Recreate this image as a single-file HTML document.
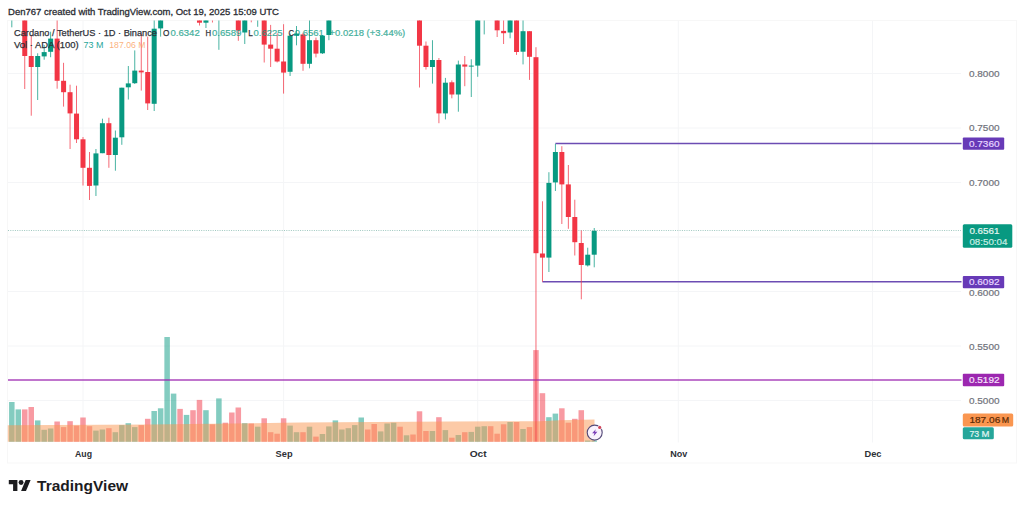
<!DOCTYPE html>
<html><head><meta charset="utf-8"><title>ADAUSDT</title>
<style>
html,body{margin:0;padding:0;background:#fff}
body{width:1024px;height:509px;overflow:hidden;font-family:"Liberation Sans",sans-serif}
svg{display:block}
text{font-family:"Liberation Sans",sans-serif}
</style></head><body>
<svg width="1024" height="509" viewBox="0 0 1024 509">
<rect width="1024" height="509" fill="#fff"/>
<defs><clipPath id="pane"><rect x="7.5" y="20.6" width="954" height="421.2"/></clipPath></defs>

<rect x="7.5" y="20.6" width="1009" height="442.4" fill="none" stroke="#f7f7f7" stroke-width="1"/>
<line x1="8" x2="961" y1="73.5" y2="73.5" stroke="#f4f5f7" stroke-width="1"/>
<line x1="8" x2="961" y1="128" y2="128" stroke="#f4f5f7" stroke-width="1"/>
<line x1="8" x2="961" y1="182.5" y2="182.5" stroke="#f4f5f7" stroke-width="1"/>
<line x1="8" x2="961" y1="237" y2="237" stroke="#f4f5f7" stroke-width="1"/>
<line x1="8" x2="961" y1="291.5" y2="291.5" stroke="#f4f5f7" stroke-width="1"/>
<line x1="8" x2="961" y1="346" y2="346" stroke="#f4f5f7" stroke-width="1"/>
<line x1="8" x2="961" y1="400.5" y2="400.5" stroke="#f4f5f7" stroke-width="1"/>
<line x1="83.0" x2="83.0" y1="21" y2="442.5" stroke="#f4f5f7" stroke-width="1"/>
<line x1="283.6" x2="283.6" y1="21" y2="442.5" stroke="#f4f5f7" stroke-width="1"/>
<line x1="477.7" x2="477.7" y1="21" y2="442.5" stroke="#f4f5f7" stroke-width="1"/>
<line x1="678.3" x2="678.3" y1="21" y2="442.5" stroke="#f4f5f7" stroke-width="1"/>
<line x1="872.5" x2="872.5" y1="21" y2="442.5" stroke="#f4f5f7" stroke-width="1"/>
<g clip-path="url(#pane)">
<rect x="9.07" y="402" width="5.5" height="40.0" fill="#089981" fill-opacity="0.5"/>
<rect x="15.54" y="409.4" width="5.5" height="32.6" fill="#089981" fill-opacity="0.5"/>
<rect x="22.01" y="409.4" width="5.5" height="32.6" fill="#f23645" fill-opacity="0.5"/>
<rect x="28.48" y="407" width="5.5" height="35.0" fill="#f23645" fill-opacity="0.5"/>
<rect x="34.95" y="420.4" width="5.5" height="21.6" fill="#089981" fill-opacity="0.5"/>
<rect x="41.42" y="429.8" width="5.5" height="12.2" fill="#089981" fill-opacity="0.5"/>
<rect x="47.89" y="428.5" width="5.5" height="13.5" fill="#089981" fill-opacity="0.5"/>
<rect x="54.37" y="421.5" width="5.5" height="20.5" fill="#f23645" fill-opacity="0.5"/>
<rect x="60.84" y="427.1" width="5.5" height="14.9" fill="#f23645" fill-opacity="0.5"/>
<rect x="67.31" y="421.2" width="5.5" height="20.8" fill="#f23645" fill-opacity="0.5"/>
<rect x="73.78" y="425.6" width="5.5" height="16.4" fill="#f23645" fill-opacity="0.5"/>
<rect x="80.25" y="417.5" width="5.5" height="24.5" fill="#f23645" fill-opacity="0.5"/>
<rect x="86.72" y="426.2" width="5.5" height="15.8" fill="#f23645" fill-opacity="0.5"/>
<rect x="93.19" y="430.6" width="5.5" height="11.4" fill="#089981" fill-opacity="0.5"/>
<rect x="99.66" y="429.5" width="5.5" height="12.5" fill="#089981" fill-opacity="0.5"/>
<rect x="106.13" y="428.2" width="5.5" height="13.8" fill="#f23645" fill-opacity="0.5"/>
<rect x="112.61" y="432.2" width="5.5" height="9.8" fill="#089981" fill-opacity="0.5"/>
<rect x="119.08" y="425.1" width="5.5" height="16.9" fill="#089981" fill-opacity="0.5"/>
<rect x="125.55" y="423.2" width="5.5" height="18.8" fill="#089981" fill-opacity="0.5"/>
<rect x="132.02" y="427.1" width="5.5" height="14.9" fill="#089981" fill-opacity="0.5"/>
<rect x="138.49" y="425.1" width="5.5" height="16.9" fill="#f23645" fill-opacity="0.5"/>
<rect x="144.96" y="418.8" width="5.5" height="23.2" fill="#f23645" fill-opacity="0.5"/>
<rect x="151.43" y="411" width="5.5" height="31.0" fill="#089981" fill-opacity="0.5"/>
<rect x="157.90" y="408.3" width="5.5" height="33.7" fill="#089981" fill-opacity="0.5"/>
<rect x="164.37" y="337" width="5.5" height="105.0" fill="#089981" fill-opacity="0.5"/>
<rect x="170.84" y="393.6" width="5.5" height="48.4" fill="#089981" fill-opacity="0.5"/>
<rect x="177.31" y="408.9" width="5.5" height="33.1" fill="#f23645" fill-opacity="0.5"/>
<rect x="183.79" y="414.9" width="5.5" height="27.1" fill="#089981" fill-opacity="0.5"/>
<rect x="190.26" y="410.2" width="5.5" height="31.8" fill="#f23645" fill-opacity="0.5"/>
<rect x="196.73" y="399.9" width="5.5" height="42.1" fill="#f23645" fill-opacity="0.5"/>
<rect x="203.20" y="410.2" width="5.5" height="31.8" fill="#089981" fill-opacity="0.5"/>
<rect x="209.67" y="424.3" width="5.5" height="17.7" fill="#f23645" fill-opacity="0.5"/>
<rect x="216.14" y="398.4" width="5.5" height="43.6" fill="#089981" fill-opacity="0.5"/>
<rect x="222.61" y="422.7" width="5.5" height="19.3" fill="#f23645" fill-opacity="0.5"/>
<rect x="229.08" y="412.5" width="5.5" height="29.5" fill="#f23645" fill-opacity="0.5"/>
<rect x="235.55" y="407.5" width="5.5" height="34.5" fill="#f23645" fill-opacity="0.5"/>
<rect x="242.03" y="423.2" width="5.5" height="18.8" fill="#089981" fill-opacity="0.5"/>
<rect x="248.50" y="423.5" width="5.5" height="18.5" fill="#f23645" fill-opacity="0.5"/>
<rect x="254.97" y="426.7" width="5.5" height="15.3" fill="#089981" fill-opacity="0.5"/>
<rect x="261.44" y="418.3" width="5.5" height="23.7" fill="#f23645" fill-opacity="0.5"/>
<rect x="267.91" y="432.2" width="5.5" height="9.8" fill="#f23645" fill-opacity="0.5"/>
<rect x="274.38" y="433.7" width="5.5" height="8.3" fill="#f23645" fill-opacity="0.5"/>
<rect x="280.85" y="418.3" width="5.5" height="23.7" fill="#f23645" fill-opacity="0.5"/>
<rect x="287.32" y="425.6" width="5.5" height="16.4" fill="#089981" fill-opacity="0.5"/>
<rect x="293.79" y="432.2" width="5.5" height="9.8" fill="#089981" fill-opacity="0.5"/>
<rect x="300.26" y="432.2" width="5.5" height="9.8" fill="#f23645" fill-opacity="0.5"/>
<rect x="306.74" y="426.7" width="5.5" height="15.3" fill="#089981" fill-opacity="0.5"/>
<rect x="313.21" y="436.6" width="5.5" height="5.4" fill="#f23645" fill-opacity="0.5"/>
<rect x="319.68" y="434" width="5.5" height="8.0" fill="#089981" fill-opacity="0.5"/>
<rect x="326.15" y="426.4" width="5.5" height="15.6" fill="#089981" fill-opacity="0.5"/>
<rect x="332.62" y="420.4" width="5.5" height="21.6" fill="#089981" fill-opacity="0.5"/>
<rect x="339.09" y="429.5" width="5.5" height="12.5" fill="#089981" fill-opacity="0.5"/>
<rect x="345.56" y="428.2" width="5.5" height="13.8" fill="#089981" fill-opacity="0.5"/>
<rect x="352.03" y="425.1" width="5.5" height="16.9" fill="#089981" fill-opacity="0.5"/>
<rect x="358.50" y="417.5" width="5.5" height="24.5" fill="#089981" fill-opacity="0.5"/>
<rect x="364.97" y="429.5" width="5.5" height="12.5" fill="#f23645" fill-opacity="0.5"/>
<rect x="371.44" y="424" width="5.5" height="18.0" fill="#f23645" fill-opacity="0.5"/>
<rect x="377.92" y="431.4" width="5.5" height="10.6" fill="#089981" fill-opacity="0.5"/>
<rect x="384.39" y="423.5" width="5.5" height="18.5" fill="#089981" fill-opacity="0.5"/>
<rect x="390.86" y="422.7" width="5.5" height="19.3" fill="#089981" fill-opacity="0.5"/>
<rect x="397.33" y="426.7" width="5.5" height="15.3" fill="#f23645" fill-opacity="0.5"/>
<rect x="403.80" y="435.3" width="5.5" height="6.7" fill="#089981" fill-opacity="0.5"/>
<rect x="410.27" y="434.5" width="5.5" height="7.5" fill="#f23645" fill-opacity="0.5"/>
<rect x="416.74" y="411.3" width="5.5" height="30.7" fill="#f23645" fill-opacity="0.5"/>
<rect x="423.21" y="431" width="5.5" height="11.0" fill="#f23645" fill-opacity="0.5"/>
<rect x="429.68" y="431" width="5.5" height="11.0" fill="#089981" fill-opacity="0.5"/>
<rect x="436.16" y="417.2" width="5.5" height="24.8" fill="#f23645" fill-opacity="0.5"/>
<rect x="442.63" y="430.1" width="5.5" height="11.9" fill="#089981" fill-opacity="0.5"/>
<rect x="449.10" y="437.7" width="5.5" height="4.3" fill="#f23645" fill-opacity="0.5"/>
<rect x="455.57" y="435" width="5.5" height="7.0" fill="#089981" fill-opacity="0.5"/>
<rect x="462.04" y="432.2" width="5.5" height="9.8" fill="#f23645" fill-opacity="0.5"/>
<rect x="468.51" y="431.9" width="5.5" height="10.1" fill="#089981" fill-opacity="0.5"/>
<rect x="474.98" y="426.7" width="5.5" height="15.3" fill="#089981" fill-opacity="0.5"/>
<rect x="481.45" y="426.2" width="5.5" height="15.8" fill="#089981" fill-opacity="0.5"/>
<rect x="487.92" y="426.2" width="5.5" height="15.8" fill="#f23645" fill-opacity="0.5"/>
<rect x="494.39" y="433.7" width="5.5" height="8.3" fill="#f23645" fill-opacity="0.5"/>
<rect x="500.87" y="424.3" width="5.5" height="17.7" fill="#f23645" fill-opacity="0.5"/>
<rect x="507.34" y="422" width="5.5" height="20.0" fill="#089981" fill-opacity="0.5"/>
<rect x="513.81" y="422" width="5.5" height="20.0" fill="#f23645" fill-opacity="0.5"/>
<rect x="520.28" y="429" width="5.5" height="13.0" fill="#089981" fill-opacity="0.5"/>
<rect x="526.75" y="427.1" width="5.5" height="14.9" fill="#f23645" fill-opacity="0.5"/>
<rect x="533.22" y="350.1" width="5.5" height="91.9" fill="#f23645" fill-opacity="0.5"/>
<rect x="539.69" y="393.2" width="5.5" height="48.8" fill="#f23645" fill-opacity="0.5"/>
<rect x="546.16" y="417.2" width="5.5" height="24.8" fill="#089981" fill-opacity="0.5"/>
<rect x="552.63" y="413.6" width="5.5" height="28.4" fill="#089981" fill-opacity="0.5"/>
<rect x="559.10" y="408.3" width="5.5" height="33.7" fill="#f23645" fill-opacity="0.5"/>
<rect x="565.58" y="422.7" width="5.5" height="19.3" fill="#f23645" fill-opacity="0.5"/>
<rect x="572.05" y="418.8" width="5.5" height="23.2" fill="#f23645" fill-opacity="0.5"/>
<rect x="578.52" y="410.2" width="5.5" height="31.8" fill="#f23645" fill-opacity="0.5"/>
<rect x="584.99" y="440.5" width="5.5" height="1.5" fill="#089981" fill-opacity="0.5"/>
<rect x="591.46" y="440.5" width="5.5" height="1.5" fill="#089981" fill-opacity="0.5"/>
<path d="M7.5 442 L7.5 425.2 L150 424.6 L300 422.6 L450 421.5 L540 421.2 L560 420.2 L594.5 419.6 L594.5 442 Z" fill="#fa9650" fill-opacity="0.5"/>
<line x1="8" x2="963" y1="380" y2="380" stroke="#9c27b0" stroke-width="1.6" stroke-opacity="0.85"/>
<line x1="555.4" x2="963" y1="143.5" y2="143.5" stroke="#6c4cb3" stroke-width="1.4"/>
<line x1="542.4" x2="963" y1="281.7" y2="281.7" stroke="#6c4cb3" stroke-width="1.4"/>
<line x1="8" x2="961" y1="230.5" y2="230.5" stroke="#5fa396" stroke-width="1" stroke-dasharray="1 1.3" stroke-opacity="0.6"/>
<rect x="11.37" y="0" width="0.9" height="27.3" fill="#089981" fill-opacity="0.82"/>
<rect x="9.32" y="0" width="5" height="20.0" fill="#089981"/>
<rect x="24.31" y="0" width="0.9" height="89.0" fill="#f23645" fill-opacity="0.82"/>
<rect x="22.26" y="0" width="5" height="56.0" fill="#f23645"/>
<rect x="30.78" y="35.1" width="0.9" height="80.6" fill="#f23645" fill-opacity="0.82"/>
<rect x="28.73" y="56" width="5" height="11.0" fill="#f23645"/>
<rect x="37.25" y="53.3" width="0.9" height="46.7" fill="#089981" fill-opacity="0.82"/>
<rect x="35.20" y="56" width="5" height="11.0" fill="#089981"/>
<rect x="43.72" y="45" width="0.9" height="14.7" fill="#089981" fill-opacity="0.82"/>
<rect x="41.67" y="52.1" width="5" height="4.3" fill="#089981"/>
<rect x="50.19" y="31.7" width="0.9" height="25.5" fill="#089981" fill-opacity="0.82"/>
<rect x="48.14" y="38.6" width="5" height="13.2" fill="#089981"/>
<rect x="56.67" y="0" width="0.9" height="88.7" fill="#f23645" fill-opacity="0.82"/>
<rect x="54.62" y="38.6" width="5" height="42.2" fill="#f23645"/>
<rect x="63.14" y="62.8" width="0.9" height="43.8" fill="#f23645" fill-opacity="0.82"/>
<rect x="61.09" y="80.8" width="5" height="11.4" fill="#f23645"/>
<rect x="69.61" y="84.7" width="0.9" height="64.3" fill="#f23645" fill-opacity="0.82"/>
<rect x="67.56" y="92.2" width="5" height="21.2" fill="#f23645"/>
<rect x="76.08" y="85.7" width="0.9" height="57.3" fill="#f23645" fill-opacity="0.82"/>
<rect x="74.03" y="113.6" width="5" height="25.7" fill="#f23645"/>
<rect x="82.55" y="137" width="0.9" height="48.5" fill="#f23645" fill-opacity="0.82"/>
<rect x="80.50" y="139.3" width="5" height="28.5" fill="#f23645"/>
<rect x="89.02" y="152" width="0.9" height="48.0" fill="#f23645" fill-opacity="0.82"/>
<rect x="86.97" y="167.8" width="5" height="18.1" fill="#f23645"/>
<rect x="95.49" y="149" width="0.9" height="47.0" fill="#089981" fill-opacity="0.82"/>
<rect x="93.44" y="153.4" width="5" height="32.1" fill="#089981"/>
<rect x="101.96" y="118.7" width="0.9" height="34.5" fill="#089981" fill-opacity="0.82"/>
<rect x="99.91" y="123.2" width="5" height="30.0" fill="#089981"/>
<rect x="108.43" y="117.7" width="0.9" height="50.1" fill="#f23645" fill-opacity="0.82"/>
<rect x="106.38" y="123.2" width="5" height="31.8" fill="#f23645"/>
<rect x="114.91" y="130.5" width="0.9" height="40.2" fill="#089981" fill-opacity="0.82"/>
<rect x="112.86" y="137.7" width="5" height="17.3" fill="#089981"/>
<rect x="121.38" y="87.7" width="0.9" height="57.1" fill="#089981" fill-opacity="0.82"/>
<rect x="119.33" y="87.7" width="5" height="49.6" fill="#089981"/>
<rect x="127.85" y="66" width="0.9" height="33.5" fill="#089981" fill-opacity="0.82"/>
<rect x="125.80" y="83.4" width="5" height="3.9" fill="#089981"/>
<rect x="134.32" y="50.4" width="0.9" height="33.6" fill="#089981" fill-opacity="0.82"/>
<rect x="132.27" y="70.6" width="5" height="12.6" fill="#089981"/>
<rect x="140.79" y="33.7" width="0.9" height="56.9" fill="#f23645" fill-opacity="0.82"/>
<rect x="138.74" y="70.6" width="5" height="1.8" fill="#f23645"/>
<rect x="147.26" y="36.6" width="0.9" height="73.4" fill="#f23645" fill-opacity="0.82"/>
<rect x="145.21" y="72" width="5" height="31.4" fill="#f23645"/>
<rect x="153.73" y="0" width="0.9" height="111.0" fill="#089981" fill-opacity="0.82"/>
<rect x="151.68" y="28.7" width="5" height="75.1" fill="#089981"/>
<rect x="160.20" y="0" width="0.9" height="36.6" fill="#089981" fill-opacity="0.82"/>
<rect x="158.15" y="0" width="5" height="28.4" fill="#089981"/>
<rect x="199.03" y="0" width="0.9" height="25.5" fill="#f23645" fill-opacity="0.82"/>
<rect x="196.98" y="0" width="5" height="22.7" fill="#f23645"/>
<rect x="205.50" y="0" width="0.9" height="28.0" fill="#089981" fill-opacity="0.82"/>
<rect x="203.45" y="0" width="5" height="22.7" fill="#089981"/>
<rect x="211.97" y="0" width="0.9" height="22.5" fill="#f23645" fill-opacity="0.82"/>
<rect x="209.92" y="0" width="5" height="10.0" fill="#f23645"/>
<rect x="218.44" y="0" width="0.9" height="49.8" fill="#089981" fill-opacity="0.82"/>
<rect x="216.39" y="0" width="5" height="10.0" fill="#089981"/>
<rect x="237.85" y="0" width="0.9" height="40.8" fill="#f23645" fill-opacity="0.82"/>
<rect x="235.80" y="0" width="5" height="30.6" fill="#f23645"/>
<rect x="244.33" y="0" width="0.9" height="44.0" fill="#089981" fill-opacity="0.82"/>
<rect x="242.28" y="0" width="5" height="32.5" fill="#089981"/>
<rect x="250.80" y="0" width="0.9" height="22.3" fill="#f23645" fill-opacity="0.82"/>
<rect x="248.75" y="0" width="5" height="10.0" fill="#f23645"/>
<rect x="257.27" y="0" width="0.9" height="26.8" fill="#089981" fill-opacity="0.82"/>
<rect x="255.22" y="0" width="5" height="10.0" fill="#089981"/>
<rect x="263.74" y="0" width="0.9" height="62.5" fill="#f23645" fill-opacity="0.82"/>
<rect x="261.69" y="0" width="5" height="44.6" fill="#f23645"/>
<rect x="270.21" y="24.9" width="0.9" height="42.1" fill="#f23645" fill-opacity="0.82"/>
<rect x="268.16" y="44.6" width="5" height="4.1" fill="#f23645"/>
<rect x="276.68" y="33.2" width="0.9" height="29.3" fill="#f23645" fill-opacity="0.82"/>
<rect x="274.63" y="48.7" width="5" height="12.8" fill="#f23645"/>
<rect x="283.15" y="24.2" width="0.9" height="69.4" fill="#f23645" fill-opacity="0.82"/>
<rect x="281.10" y="61.5" width="5" height="11.1" fill="#f23645"/>
<rect x="289.62" y="33.5" width="0.9" height="42.5" fill="#089981" fill-opacity="0.82"/>
<rect x="287.57" y="35.7" width="5" height="36.1" fill="#089981"/>
<rect x="296.09" y="26" width="0.9" height="19.3" fill="#089981" fill-opacity="0.82"/>
<rect x="294.04" y="33.5" width="5" height="2.2" fill="#089981"/>
<rect x="302.56" y="32.7" width="0.9" height="38.1" fill="#f23645" fill-opacity="0.82"/>
<rect x="300.51" y="34.4" width="5" height="29.4" fill="#f23645"/>
<rect x="309.04" y="0" width="0.9" height="68.3" fill="#089981" fill-opacity="0.82"/>
<rect x="306.99" y="40.2" width="5" height="23.6" fill="#089981"/>
<rect x="315.51" y="37.6" width="0.9" height="19.8" fill="#f23645" fill-opacity="0.82"/>
<rect x="313.46" y="40.2" width="5" height="13.4" fill="#f23645"/>
<rect x="321.98" y="35" width="0.9" height="19.0" fill="#089981" fill-opacity="0.82"/>
<rect x="319.93" y="35.7" width="5" height="17.6" fill="#089981"/>
<rect x="328.45" y="0" width="0.9" height="40.2" fill="#089981" fill-opacity="0.82"/>
<rect x="326.40" y="0" width="5" height="35.0" fill="#089981"/>
<rect x="419.04" y="0" width="0.9" height="87.5" fill="#f23645" fill-opacity="0.82"/>
<rect x="416.99" y="0" width="5" height="45.7" fill="#f23645"/>
<rect x="425.51" y="41.5" width="0.9" height="28.1" fill="#f23645" fill-opacity="0.82"/>
<rect x="423.46" y="45.7" width="5" height="21.3" fill="#f23645"/>
<rect x="431.98" y="40.2" width="0.9" height="43.4" fill="#089981" fill-opacity="0.82"/>
<rect x="429.93" y="60" width="5" height="7.0" fill="#089981"/>
<rect x="438.46" y="58" width="0.9" height="65.2" fill="#f23645" fill-opacity="0.82"/>
<rect x="436.41" y="60" width="5" height="53.4" fill="#f23645"/>
<rect x="444.93" y="77.9" width="0.9" height="41.5" fill="#089981" fill-opacity="0.82"/>
<rect x="442.88" y="82.7" width="5" height="30.7" fill="#089981"/>
<rect x="451.40" y="80.4" width="0.9" height="17.9" fill="#f23645" fill-opacity="0.82"/>
<rect x="449.35" y="82.3" width="5" height="12.2" fill="#f23645"/>
<rect x="457.87" y="60.6" width="0.9" height="51.1" fill="#089981" fill-opacity="0.82"/>
<rect x="455.82" y="64.5" width="5" height="30.0" fill="#089981"/>
<rect x="464.34" y="56" width="0.9" height="30.2" fill="#f23645" fill-opacity="0.82"/>
<rect x="462.29" y="64.5" width="5" height="2.1" fill="#f23645"/>
<rect x="470.81" y="59.3" width="0.9" height="37.7" fill="#089981" fill-opacity="0.82"/>
<rect x="468.76" y="65.6" width="5" height="1.0" fill="#089981"/>
<rect x="477.28" y="0" width="0.9" height="76.8" fill="#089981" fill-opacity="0.82"/>
<rect x="475.23" y="0" width="5" height="65.6" fill="#089981"/>
<rect x="483.75" y="0" width="0.9" height="34.4" fill="#089981" fill-opacity="0.82"/>
<rect x="481.70" y="0" width="5" height="10.0" fill="#089981"/>
<rect x="496.69" y="0" width="0.9" height="37.0" fill="#f23645" fill-opacity="0.82"/>
<rect x="494.64" y="0" width="5" height="30.3" fill="#f23645"/>
<rect x="503.17" y="0" width="0.9" height="44.0" fill="#f23645" fill-opacity="0.82"/>
<rect x="501.12" y="30.9" width="5" height="2.3" fill="#f23645"/>
<rect x="509.64" y="0" width="0.9" height="38.3" fill="#089981" fill-opacity="0.82"/>
<rect x="507.59" y="0" width="5" height="32.5" fill="#089981"/>
<rect x="516.11" y="0" width="0.9" height="54.9" fill="#f23645" fill-opacity="0.82"/>
<rect x="514.06" y="0" width="5" height="52.0" fill="#f23645"/>
<rect x="522.58" y="0" width="0.9" height="64.4" fill="#089981" fill-opacity="0.82"/>
<rect x="520.53" y="31.2" width="5" height="20.5" fill="#089981"/>
<rect x="529.05" y="31.2" width="0.9" height="48.7" fill="#f23645" fill-opacity="0.82"/>
<rect x="527.00" y="31.2" width="5" height="25.6" fill="#f23645"/>
<rect x="535.52" y="47.2" width="0.9" height="394.4" fill="#f23645" fill-opacity="0.82"/>
<rect x="533.47" y="57.2" width="5" height="196.0" fill="#f23645"/>
<rect x="541.99" y="201.3" width="0.9" height="80.4" fill="#f23645" fill-opacity="0.82"/>
<rect x="539.94" y="253.5" width="5" height="4.1" fill="#f23645"/>
<rect x="548.46" y="172.2" width="0.9" height="99.8" fill="#089981" fill-opacity="0.82"/>
<rect x="546.41" y="182.9" width="5" height="74.7" fill="#089981"/>
<rect x="554.93" y="143.9" width="0.9" height="47.1" fill="#089981" fill-opacity="0.82"/>
<rect x="552.88" y="152" width="5" height="30.4" fill="#089981"/>
<rect x="561.40" y="146.2" width="0.9" height="77.8" fill="#f23645" fill-opacity="0.82"/>
<rect x="559.35" y="152" width="5" height="32.4" fill="#f23645"/>
<rect x="567.88" y="165" width="0.9" height="63.8" fill="#f23645" fill-opacity="0.82"/>
<rect x="565.83" y="184.4" width="5" height="32.6" fill="#f23645"/>
<rect x="574.35" y="199.7" width="0.9" height="55.8" fill="#f23645" fill-opacity="0.82"/>
<rect x="572.30" y="217" width="5" height="25.2" fill="#f23645"/>
<rect x="580.82" y="230.4" width="0.9" height="68.9" fill="#f23645" fill-opacity="0.82"/>
<rect x="578.77" y="243" width="5" height="22.0" fill="#f23645"/>
<rect x="587.29" y="247.7" width="0.9" height="18.8" fill="#089981" fill-opacity="0.82"/>
<rect x="585.24" y="254.7" width="5" height="10.7" fill="#089981"/>
<rect x="593.76" y="228" width="0.9" height="39.3" fill="#089981" fill-opacity="0.82"/>
<rect x="591.71" y="230.8" width="5" height="23.9" fill="#089981"/>
</g>
<g transform="translate(594.7 432.6)"><circle r="7.5" fill="#f9f2fd" stroke="#544a78" stroke-width="1.1"/>
<path d="M1.1 -3.4 L-2.6 0.6 L-0.3 0.6 L-1.1 3.6 L2.7 -0.8 L0.3 -0.8 Z" fill="#7b3fb8"/>
<circle cx="5" cy="-5.2" r="2.2" fill="#fff"/><circle cx="5" cy="-5.2" r="1.6" fill="#d0465c"/></g>
<text x="969" y="76.85" font-size="9.1" fill="#6f727b" font-weight="normal" text-anchor="start" textLength="30.5" lengthAdjust="spacingAndGlyphs" stroke="#6f727b" stroke-width="0.2">0.8000</text>
<text x="969" y="131.45" font-size="9.1" fill="#6f727b" font-weight="normal" text-anchor="start" textLength="30.5" lengthAdjust="spacingAndGlyphs" stroke="#6f727b" stroke-width="0.2">0.7500</text>
<text x="969" y="185.95" font-size="9.1" fill="#6f727b" font-weight="normal" text-anchor="start" textLength="30.5" lengthAdjust="spacingAndGlyphs" stroke="#6f727b" stroke-width="0.2">0.7000</text>
<text x="969" y="295.65" font-size="9.1" fill="#6f727b" font-weight="normal" text-anchor="start" textLength="30.5" lengthAdjust="spacingAndGlyphs" stroke="#6f727b" stroke-width="0.2">0.6000</text>
<text x="969" y="350.05" font-size="9.1" fill="#6f727b" font-weight="normal" text-anchor="start" textLength="30.5" lengthAdjust="spacingAndGlyphs" stroke="#6f727b" stroke-width="0.2">0.5500</text>
<text x="969" y="404.25" font-size="9.1" fill="#6f727b" font-weight="normal" text-anchor="start" textLength="30.5" lengthAdjust="spacingAndGlyphs" stroke="#6f727b" stroke-width="0.2">0.5000</text>
<rect x="962.8" y="137.4" width="41.4" height="12.4" rx="1" fill="#673ab7"/>
<text x="969" y="146.85" font-size="9.1" fill="#e6d6ff" font-weight="normal" text-anchor="start" textLength="30.5" lengthAdjust="spacingAndGlyphs" stroke="#e6d6ff" stroke-width="0.2">0.7360</text>
<rect x="962.8" y="224.2" width="49.5" height="23.5" rx="1.5" fill="#089981"/>
<text x="969.4" y="234.15" font-size="9.1" fill="#e3f6f0" font-weight="normal" text-anchor="start" textLength="30" lengthAdjust="spacingAndGlyphs" stroke="#e3f6f0" stroke-width="0.2">0.6561</text>
<text x="969.4" y="244.75" font-size="9.1" fill="#c9ede3" font-weight="normal" text-anchor="start" textLength="38" lengthAdjust="spacingAndGlyphs" stroke="#c9ede3" stroke-width="0.2">08:50:04</text>
<rect x="962.8" y="276" width="41.4" height="12.2" rx="1" fill="#673ab7"/>
<text x="969" y="285.35" font-size="9.1" fill="#e6d6ff" font-weight="normal" text-anchor="start" textLength="30.5" lengthAdjust="spacingAndGlyphs" stroke="#e6d6ff" stroke-width="0.2">0.6092</text>
<rect x="962.8" y="373.8" width="41.4" height="12.4" rx="1" fill="#9c27b0"/>
<text x="969" y="383.25" font-size="9.1" fill="#f6e3fa" font-weight="normal" text-anchor="start" textLength="30.5" lengthAdjust="spacingAndGlyphs" stroke="#f6e3fa" stroke-width="0.2">0.5192</text>
<rect x="962.8" y="413.6" width="50.4" height="12.8" rx="1.5" fill="#fa9650"/>
<text x="969.4" y="423.25" font-size="9.1" fill="#5c2a05" font-weight="normal" text-anchor="start" textLength="30.9" lengthAdjust="spacingAndGlyphs" stroke="#5c2a05" stroke-width="0.2">187.06</text>
<text x="1001.7" y="423.25" font-size="9.1" fill="#5c2a05" font-weight="normal" text-anchor="start" textLength="7.4" lengthAdjust="spacingAndGlyphs" stroke="#5c2a05" stroke-width="0.2">M</text>
<rect x="962.8" y="427.3" width="31" height="12" rx="1.5" fill="#26a69a"/>
<text x="969.4" y="436.55" font-size="9.1" fill="#e0f5f2" font-weight="normal" text-anchor="start" textLength="9.7" lengthAdjust="spacingAndGlyphs" stroke="#e0f5f2" stroke-width="0.2">73</text>
<text x="981.4" y="436.55" font-size="9.1" fill="#e0f5f2" font-weight="normal" text-anchor="start" textLength="7.9" lengthAdjust="spacingAndGlyphs" stroke="#e0f5f2" stroke-width="0.2">M</text>
<text x="75.0" y="456.6" font-size="9.2" fill="#2e3036" font-weight="bold" text-anchor="start" textLength="17" lengthAdjust="spacingAndGlyphs">Aug</text>
<text x="275.6" y="456.6" font-size="9.2" fill="#2e3036" font-weight="bold" text-anchor="start" textLength="17" lengthAdjust="spacingAndGlyphs">Sep</text>
<text x="469.7" y="456.6" font-size="9.2" fill="#2e3036" font-weight="bold" text-anchor="start" textLength="17" lengthAdjust="spacingAndGlyphs">Oct</text>
<text x="670.3" y="456.6" font-size="9.2" fill="#2e3036" font-weight="bold" text-anchor="start" textLength="17" lengthAdjust="spacingAndGlyphs">Nov</text>
<text x="864.5" y="456.6" font-size="9.2" fill="#2e3036" font-weight="bold" text-anchor="start" textLength="17" lengthAdjust="spacingAndGlyphs">Dec</text>
<text x="8" y="15.4" font-size="9.6" fill="#2b2d33" font-weight="normal" text-anchor="start" textLength="271" lengthAdjust="spacingAndGlyphs" stroke="#2b2d33" stroke-width="0.3">Den767 created with TradingView.com, Oct 19, 2025 15:09 UTC</text>
<text x="14" y="36" font-size="9.5" fill="#2f3138" font-weight="normal" text-anchor="start" textLength="143" lengthAdjust="spacingAndGlyphs" stroke="#2f3138" stroke-width="0.25">Cardano / TetherUS · 1D · Binance</text>
<text x="163" y="36" font-size="9.5" fill="#2f3138" font-weight="normal" text-anchor="start" textLength="6.4" lengthAdjust="spacingAndGlyphs" stroke="#2f3138" stroke-width="0.25">O</text>
<text x="170.5" y="36" font-size="9.5" fill="#089981" font-weight="normal" text-anchor="start" textLength="29.2" lengthAdjust="spacingAndGlyphs" stroke="#089981" stroke-width="0.2" opacity="0.78">0.6342</text>
<text x="205.6" y="36" font-size="9.5" fill="#2f3138" font-weight="normal" text-anchor="start" textLength="5.6" lengthAdjust="spacingAndGlyphs" stroke="#2f3138" stroke-width="0.25">H</text>
<text x="211.9" y="36" font-size="9.5" fill="#089981" font-weight="normal" text-anchor="start" textLength="29.6" lengthAdjust="spacingAndGlyphs" stroke="#089981" stroke-width="0.2" opacity="0.78">0.6589</text>
<text x="248.3" y="36" font-size="9.5" fill="#2f3138" font-weight="normal" text-anchor="start" textLength="4.6" lengthAdjust="spacingAndGlyphs" stroke="#2f3138" stroke-width="0.25">L</text>
<text x="253.6" y="36" font-size="9.5" fill="#089981" font-weight="normal" text-anchor="start" textLength="29" lengthAdjust="spacingAndGlyphs" stroke="#089981" stroke-width="0.2" opacity="0.78">0.6225</text>
<text x="288.4" y="36" font-size="9.5" fill="#2f3138" font-weight="normal" text-anchor="start" textLength="5.6" lengthAdjust="spacingAndGlyphs" stroke="#2f3138" stroke-width="0.25">C</text>
<text x="294.7" y="36" font-size="9.5" fill="#089981" font-weight="normal" text-anchor="start" textLength="29.2" lengthAdjust="spacingAndGlyphs" stroke="#089981" stroke-width="0.2" opacity="0.78">0.6561</text>
<text x="329.5" y="36" font-size="9.5" fill="#089981" font-weight="normal" text-anchor="start" textLength="75.7" lengthAdjust="spacingAndGlyphs" stroke="#089981" stroke-width="0.2" opacity="0.78">+0.0218 (+3.44%)</text>
<text x="14" y="48.1" font-size="9.5" fill="#2f3138" font-weight="normal" text-anchor="start" textLength="64.6" lengthAdjust="spacingAndGlyphs" stroke="#2f3138" stroke-width="0.25">Vol · ADA (100)</text>
<text x="83.6" y="48.1" font-size="9.5" fill="#26a69a" font-weight="normal" text-anchor="start" textLength="20" lengthAdjust="spacingAndGlyphs">73 M</text>
<text x="109.3" y="48.1" font-size="9.5" fill="#fa9650" font-weight="normal" text-anchor="start" textLength="36.1" lengthAdjust="spacingAndGlyphs" fill-opacity="0.75">187.06 M</text>
<g transform="translate(8.8 477.6) scale(0.614)" fill="#1c1c1f"><path d="M14 22H7V11H0V4h14v18z"/><path d="M28 22h-8l7.5-18h8L28 22z"/><circle cx="20" cy="8" r="4"/></g>
<text x="37.1" y="491.2" font-size="15.5" fill="#1c1c1f" font-weight="bold" text-anchor="start" textLength="91" lengthAdjust="spacingAndGlyphs">TradingView</text>
</svg></body></html>
